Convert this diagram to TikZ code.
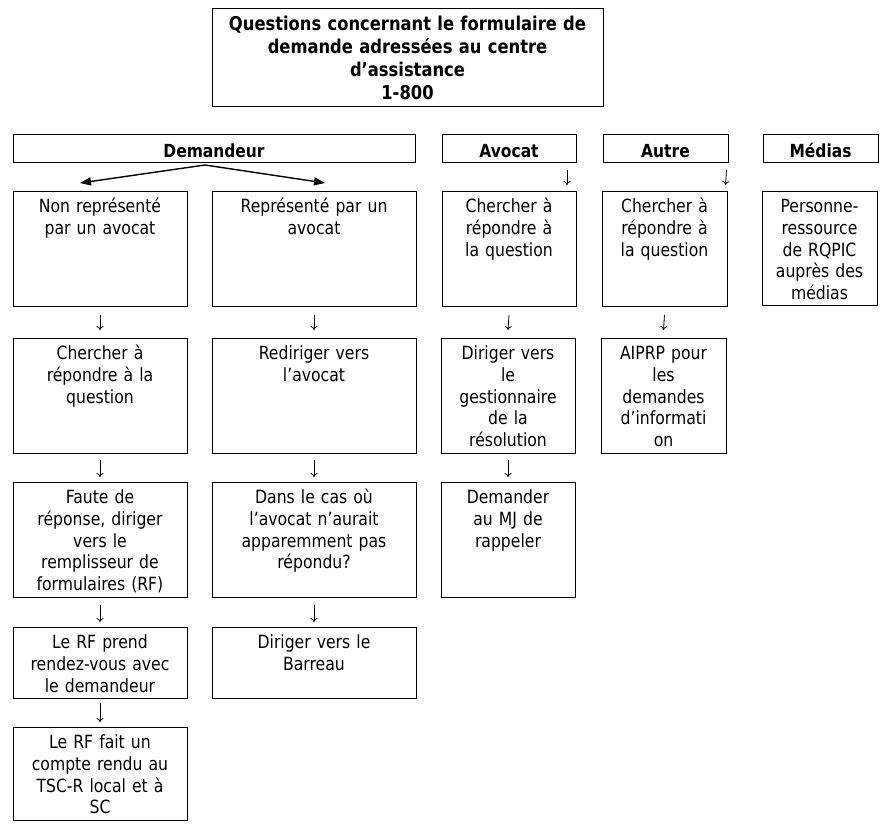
\documentclass[tikz,border=0pt]{standalone}
\usepackage{fontspec}
\setmainfont{DejaVu Sans}[FakeStretch=0.86]
\usetikzlibrary{arrows.meta,calc}
\tikzset{
  boxs/.style={draw, line width=1pt, inner sep=0pt, outer sep=0pt, anchor=north west},
  txt/.style={inner sep=0pt, align=center, anchor=north,
    font=\fontsize{18.2}{21.75}\selectfont, execute at begin node=\strut},
  ttl/.style={inner sep=0pt, align=center, anchor=north,
    font=\bfseries\fontsize{19}{23}\selectfont, execute at begin node=\strut},
  hdr/.style={boxs, font=\bfseries\fontsize{18}{21.75}\selectfont, text height=18pt, text depth=0pt},
  darr/.style={line width=0.8pt, -{To[length=4pt,width=7pt]}},
  tarr/.style={line width=1.4pt, -{Triangle[length=11pt,width=8pt]}},
}
\newcommand\bxx[6]{%
  \pgfmathsetmacro\bxW{#4-#2}%
  \pgfmathsetmacro\bxH{#5-#3}%
  \pgfmathsetmacro\bxT{#4-#2-2}%
  \node[boxs, minimum width=\bxW pt, minimum height=\bxH pt] (#1) at (#2,#3) {};
  \node[txt, text width=\bxT pt] (#1t) at ({(#2+#4)/2},{#3+6.3}) {#6};
}
\newcommand\hbx[6]{%
  \pgfmathsetmacro\bxW{#4-#2}%
  \pgfmathsetmacro\bxH{#5-#3}%
  \node[hdr, minimum width=\bxW pt, minimum height=\bxH pt] (#1) at (#2,#3) {#6};
}
\begin{document}
\begin{tikzpicture}[x=1pt,y=-1pt]
\useasboundingbox (0,0) rectangle (887,835);
\fill[white] (0,0) rectangle (887,835);

% title
\pgfmathsetmacro\bxW{603-212}
\node[boxs, minimum width=\bxW pt, minimum height=98pt] (title) at (212,8) {};
\node[ttl, text width=385pt] (titlet) at (407.5,14.2)
  {Questions concernant le formulaire de\\demande adressées au centre\\d’assistance\\1-800};

% headers
\hbx{dem}{13}{134}{415}{162}{Demandeur}
\hbx{avh}{442}{134}{576}{162}{Avocat}
\hbx{auh}{603}{134}{728}{162}{Autre}
\hbx{meh}{763}{134}{878}{162}{Médias}

% row 1
\bxx{n1}{13}{191}{187}{306}{Non représenté\\par un avocat}
\bxx{r1}{212}{191}{416}{306}{Représenté par un\\avocat}
\bxx{a1}{442}{191}{576}{306}{Chercher à\\répondre à\\la question}
\bxx{o1}{602}{191}{727}{306}{Chercher à\\répondre à\\la question}
\bxx{m1}{762}{191}{877}{305}{Personne-\\ressource\\de RQPIC\\auprès des\\médias}

% row 2
\bxx{n2}{13}{338}{187}{453}{Chercher à\\répondre à la\\question}
\bxx{r2}{212}{338}{416}{453}{Rediriger vers\\l’avocat}
\bxx{a2}{441}{338}{575}{453}{Diriger vers\\le\\gestionnaire\\de la\\résolution}
\bxx{o2}{601}{338}{726}{453}{AIPRP pour\\les\\demandes\\d’informati\\on}

% row 3
\bxx{n3}{13}{482}{187}{597}{Faute de\\réponse, diriger\\vers le\\remplisseur de\\formulaires (RF)}
\bxx{r3}{212}{482}{416}{597}{Dans le cas où\\l’avocat n’aurait\\apparemment pas\\répondu?}
\bxx{a3}{441}{482}{575}{597}{Demander\\au MJ de\\rappeler}

% row 4
\bxx{n4}{13}{627}{187}{698}{Le RF prend\\rendez-vous avec\\le demandeur}
\bxx{r4}{212}{627}{416}{698}{Diriger vers le\\Barreau}

% row 5
\bxx{n5}{13}{727}{187}{820}{Le RF fait un\\compte rendu au\\TSC-R local et à\\SC}

% Demandeur split arrows
\draw[tarr] ([xshift=-9pt,yshift=-3pt]dem.south) -- ([xshift=-20pt,yshift=8pt]n1.north);
\draw[tarr] ([xshift=-9pt,yshift=-3pt]dem.south) -- ([xshift=11pt,yshift=8pt]r1.north);

% header arrows
\draw[darr] ([xshift=58pt,yshift=-8pt]avh.south) -- ([xshift=58pt,yshift=6pt]a1.north);
\draw[darr] ([xshift=61pt,yshift=-8pt]auh.south) -- ([xshift=61pt,yshift=6pt]o1.north);

% column arrows
\draw[darr] ([yshift=-9pt]n1.south) -- ([yshift=8pt]n2.north);
\draw[darr] ([yshift=-7pt]n2.south) -- ([yshift=5pt]n3.north);
\draw[darr] ([yshift=-8pt]n3.south) -- ([yshift=5pt]n4.north);
\draw[darr] ([yshift=-5pt]n4.south) -- ([yshift=5pt]n5.north);

\draw[darr] ([yshift=-9pt]r1.south) -- ([yshift=8pt]r2.north);
\draw[darr] ([yshift=-7pt]r2.south) -- ([yshift=5pt]r3.north);
\draw[darr] ([yshift=-8pt]r3.south) -- ([yshift=5pt]r4.north);

\draw[darr] ([yshift=-9pt]a1.south) -- ([yshift=8pt]a2.north);
\draw[darr] ([yshift=-7pt]a2.south) -- ([yshift=5pt]a3.north);

\draw[darr] ([yshift=-9pt]o1.south) -- ([yshift=8pt]o2.north);
\end{tikzpicture}
\end{document}
